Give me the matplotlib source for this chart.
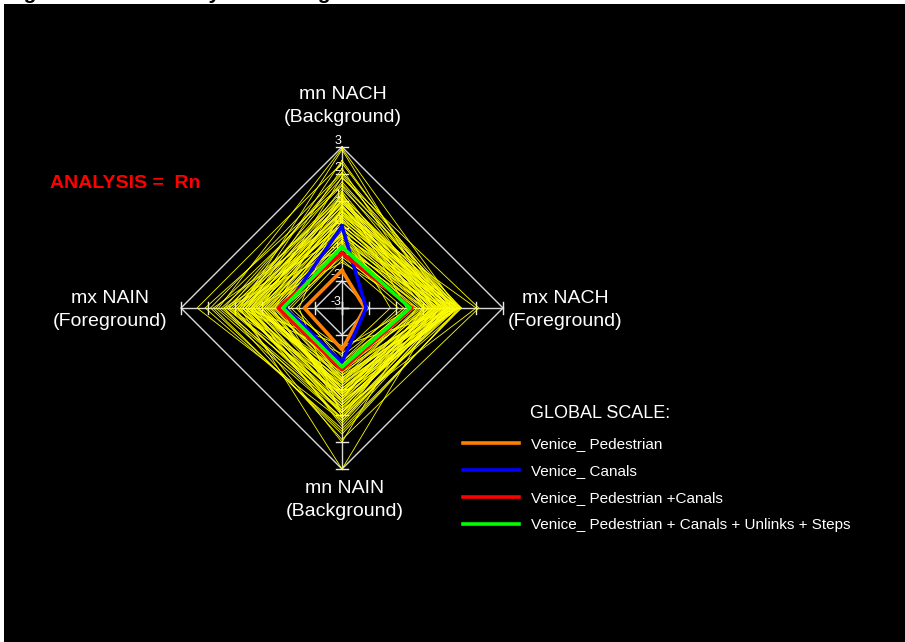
import matplotlib
matplotlib.use('Agg')
import matplotlib.pyplot as plt

plt.rcParams['font.family'] = ['Liberation Sans', 'DejaVu Sans']

# radar axes, clockwise from the top
axis_labels = ['mn NACH\n(Background)', 'mx NACH\n(Foreground)',
               'mn NAIN\n(Background)', 'mx NAIN\n(Foreground)']
tick_values = [-3, -2, -1, 0, 1, 2, 3]

# individual cases (yellow lines)
case_mn_nach = [2.95, 2.9, 2.4, 2.05, 2.0, 1.85, 1.7, 1.55, 1.45, 1.35,
                1.2, 1.15, 1.1, 1.05, 1.0, 0.98, 0.93, 0.9, 0.84, 0.8,
                0.76, 0.7, 0.63, 0.6, 0.57, 0.5, 0.44, 0.4, 0.37, 0.3,
                0.24, 0.2, 0.13, 0.1, 0.06, 0.0, -0.04, -0.1, -0.17, -0.2,
                -0.26, -0.3, -0.33, -0.4, -0.47, -0.5, -0.55, -0.6, -0.66, -0.7,
                -0.8, -0.92, -1.0, -1.1, -1.2, 1.6, 0.6, 1.25, 0.3, -0.3,
                2.2, 1.3, 0.1, 1.0, 0.8, 1.9, -0.8, 0.5, 2.5, -1.3]
case_mx_nach = [1.3, 0.6, 1.1, 1.4, 0.9, 2.1, 1.2, 0.8, 1.35, 0.5,
                1.0, 1.25, 0.7, 1.15, 0.3, 1.05, 0.85, 1.3, 0.45, 1.0,
                0.65, 1.2, 0.9, 0.2, 1.1, 0.75, 1.3, 0.55, 0.95, 0.1,
                0.8, 1.15, 0.4, 0.7, 1.0, 0.35, 0.6, 0.9, 0.15, 0.5,
                0.75, 0.05, 0.45, 0.25, -0.1, 0.6, 0.0, -0.3, 0.3, -0.2,
                -0.5, 0.1, -0.7, -0.4, -0.9, 1.45, 2.0, 0.0, 1.35, 1.2,
                0.4, -0.6, -1.2, 1.4, 0.2, 1.3, 0.85, 1.45, 0.95, -0.2]
case_mn_nain = [0.9, 3.0, 1.2, 1.6, 0.7, 1.9, 0.5, 1.1, 0.3, 0.9,
                1.4, 0.2, 0.6, 0.0, 0.8, 0.4, 1.0, -0.2, 0.3, 0.7,
                -0.1, 0.5, 1.3, 0.1, 0.6, -0.3, 0.2, 0.9, -0.4, 0.4,
                0.0, -0.5, 0.3, 0.1, -0.2, 0.5, -0.6, 0.2, -0.3, 0.0,
                -0.7, -0.1, -0.4, 0.15, -0.5, -0.25, -0.8, -0.6, -0.9, -0.35,
                -1.0, -0.7, -1.2, -1.5, -1.0, 1.5, 0.8, 2.0, 1.7, 1.1,
                -0.3, -0.9, -1.3, -1.6, 1.1, 0.1, 0.6, 0.9, 1.2, 0.4]
case_mx_nain = [1.6, 0.8, 2.4, 1.9, 1.2, 1.4, 0.9, 1.7, 0.6, 1.1,
                0.4, 1.3, 0.9, 0.2, 1.5, 0.7, 0.5, 1.0, 0.1, 0.8,
                1.2, 0.3, 0.6, -0.1, 0.9, 0.4, 0.0, 0.7, 0.2, 0.5,
                -0.2, 0.35, -0.3, 0.6, 0.1, -0.4, 0.3, -0.1, -0.5, 0.0,
                -0.25, 0.15, -0.6, -0.35, -0.7, -0.45, -0.15, -0.8, -0.55, -0.9,
                -0.65, -1.0, -1.1, -0.85, -1.3, 2.1, 0.4, 1.0, 1.8, 1.4,
                0.5, -0.5, 0.8, 0.6, -1.4, 0.0, 1.3, -0.7, 0.7, 0.3]

# highlighted networks, values on the four axes
series_names = ['Venice_ Pedestrian', 'Venice_ Canals',
                'Venice_ Pedestrian +Canals',
                'Venice_ Pedestrian + Canals + Unlinks + Steps']
series_values = [[-1.6, -2.15, -1.45, -1.6],
                 [0.05, -2.1, -0.98, -0.88],
                 [-0.95, -0.4, -0.7, -0.62],
                 [-0.73, -0.46, -0.8, -0.8]]
series_colors = ['#ff8000', '#0000ff', '#ff0000', '#00ff00']

# layout in pixels
cx, cy, R = 342, 308, 161
dirs = [(0, -1), (1, 0), (0, 1), (-1, 0)]
vmin, vmax = -3, 3


def radius(v):
    return (v - vmin) / (vmax - vmin) * R


def polygon(vals):
    xs = [cx + radius(v) * d[0] for v, d in zip(vals, dirs)]
    ys = [cy + radius(v) * d[1] for v, d in zip(vals, dirs)]
    return xs + xs[:1], ys + ys[:1]


fig = plt.figure(figsize=(9.05, 6.42), dpi=100, facecolor='white')
ax = fig.add_axes([4 / 905, 0, 901 / 905, 638 / 642])
ax.set_facecolor('black')
ax.set_xlim(4, 905)
ax.set_ylim(642, 4)
ax.set_xticks([])
ax.set_yticks([])
for s in ax.spines.values():
    s.set_visible(False)

fig.text(5 / 905, 1 + 1 / 642, 'Figure 4: Radar Analysis of Integration',
         fontsize=15, fontweight='bold', color='black', va='baseline')

# grid: outer and inner rings, spokes and tick marks
for lev in [-2, 3]:
    xs, ys = polygon([lev] * 4)
    ax.plot(xs, ys, color='#d8d8d8', lw=1, zorder=1)
for d in dirs:
    ax.plot([cx, cx + R * d[0]], [cy, cy + R * d[1]], color='#d8d8d8', lw=1, zorder=1)
    for t in tick_values:
        px, py = cx + radius(t) * d[0], cy + radius(t) * d[1]
        ax.plot([px - 6 * d[1], px + 6 * d[1]], [py - 6 * d[0], py + 6 * d[0]],
                color='#e8e8e8', lw=1, zorder=1)
for t in tick_values:
    ax.text(cx - 1, cy - radius(t), str(t), ha='right', va='bottom',
            fontsize=9, color='white', zorder=1)

# individual cases
for vals in zip(case_mn_nach, case_mx_nach, case_mn_nain, case_mx_nain):
    xs, ys = polygon(vals)
    ax.plot(xs, ys, color='#ffff00', lw=0.6, zorder=2)

# highlighted series
handles = []
for name, vals, col in zip(series_names, series_values, series_colors):
    xs, ys = polygon(vals)
    h, = ax.plot(xs, ys, color=col, lw=2.6, zorder=3, label=name)
    handles.append(h)

# axis labels
label_pos = [(343, 106), (565, 310), (345, 500), (110, 310)]
for (lx, ly), lab in zip(label_pos, axis_labels):
    ax.text(lx, ly, lab, ha='center', va='center', fontsize=14, color='white',
            linespacing=1.5)

ax.text(50, 184, 'ANALYSIS =  Rn', color='red', fontsize=14, fontweight='bold',
        ha='left', va='center')

ax.text(530, 414, 'GLOBAL SCALE:', color='white', fontsize=13, ha='left', va='center')
leg = ax.legend(handles=handles, loc='upper left', bbox_to_anchor=(463, 437),
                bbox_transform=ax.transData, frameon=False, fontsize=11,
                handlelength=3.66, handletextpad=0.8, labelspacing=0.85,
                borderpad=0, borderaxespad=0, labelcolor='white')
for line in leg.get_lines():
    line.set_linewidth(2.6)

fig.savefig('out.png', dpi=100, facecolor='white')
